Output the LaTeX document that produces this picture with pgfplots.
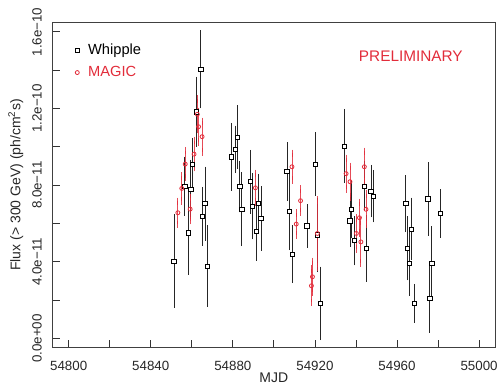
\documentclass[border=0pt]{standalone}
\usepackage{pgfplots}
\pgfplotsset{compat=1.18}
\usepackage{pgfplotstable}
\usepackage{fontspec}
\setmainfont{Liberation Sans}
\definecolor{magic}{RGB}{226,44,58}

\pgfplotstableread{
x y e
54851.3 4.04 2.2
54856.6 7.95 1.3
54858.5 5.51 1.95
54859.5 7.78 1.3
54860.3 9.09 1.15
54862.3 11.83 1.6
54864.4 14.05 1.8
54865.3 6.37 1.3
54866.4 7.03 1.7
54867.6 3.78 1.9
54879.2 9.48 1.53
54881.3 9.87 1.0
54882.1 10.5 1.43
54883.4 7.92 1.1
54884.4 6.75 1.7
54888.5 8.18 1.43
54889.4 6.91 1.5
54891.4 5.59 1.3
54892.3 7.05 1.3
54893.7 6.27 1.45
54906.4 8.7 1.3
54907.5 6.65 1.8
54909.1 4.4 1.28
54916.1 5.88 0.9
54920.1 9.1 1.42
54921.2 5.4 1.7
54922.6 1.83 1.68
54934.2 10.04 1.7
54937.1 6.13 1.1
54937.9 6.75 1.25
54939.2 5.1 1.05
54944.2 7.95 1.05
54945.2 4.7 1.5
54947.3 7.69 1.13
54948.4 7.43 1.13
54964.3 7.03 1.24
54964.9 4.7 1.43
54966.1 3.92 1.46
54967.0 5.71 1.4
54968.5 1.83 0.78
54975.1 7.29 1.68
54976.0 2.09 1.56
54977.0 3.92 1.7
54981.1 6.51 1.03
}\whipple

\pgfplotstableread{
x y e
54853.2 6.56 0.6
54855.1 7.83 0.65
54856.8 9.1 0.7
54859.2 6.75 0.6
54861.1 9.62 0.7
54862.7 11.7 0.8
54863.3 11.05 0.8
54865.0 10.53 0.8
54891.0 7.86 0.75
54908.8 8.96 0.7
54910.9 5.97 0.57
54913.0 7.19 0.6
54918.3 2.75 0.87
54918.8 3.22 0.8
54921.2 5.48 1.75
54935.2 8.6 0.8
54937.1 8.18 0.8
54940.2 5.48 0.8
54941.7 6.3 0.8
54942.4 5.04 1.1
54944.1 8.96 0.8
54944.9 6.74 0.8
}\magicdata

\begin{document}
\begin{tikzpicture}
\begin{axis}[
  scale only axis, width=332.25pt, height=243.5pt,
  xmin=54792, xmax=55008, ymin=-0.47, ymax=16.48,
  scaled x ticks=false, scaled y ticks=false,
  xtick={54800,54820,...,55000},
  xticklabels={54800,,54840,,54880,,54920,,54960,,55000},
  ytick={0,2,...,16},
  yticklabels={0.0e+00,,4.0e−11,,8.0e−11,,1.2e−10,,1.6e−10},
  tick align=inside, xtick pos=bottom, ytick pos=left,
  major tick length=5.8pt,
  tick style={black!80, line width=0.6pt},
  axis line style={black!75, line width=0.6pt},
  /pgf/number format/assume math mode=true,
  ticklabel style={font=\fontsize{10}{12}\selectfont, text=black!85},
  xticklabel style={anchor=base}, xticklabel shift=17.5pt,
  yticklabel style={rotate=90, anchor=base}, yticklabel shift=8pt,
  xlabel={MJD}, ylabel={Flux (> 300 GeV) (ph/cm\textsuperscript{2}s)},
  label style={font=\fontsize{10.5}{13}\selectfont, text=black!85},
  xlabel style={at={(axis description cs:0.5,-0.107)}, anchor=base},
  ylabel style={at={(axis description cs:-0.072,0.5)}, anchor=base},
  legend style={draw=none, fill=none, at={(axis description cs:0.051,0.944)}, anchor=north west,
    font=\fontsize{11}{13}\selectfont, row sep=3.5pt, inner sep=0pt,
    nodes={inner sep=2pt}},
  legend cell align=left,
]
\addplot[only marks, mark=square*, mark size=1.6pt, draw=black, line width=0.6pt, mark options={fill=white},
  error bars/.cd, y dir=both, y explicit,
  error bar style={black!85, line width=0.6pt},
  error mark options={black!85, mark size=3.4pt, line width=0.6pt}]
  table[x=x, y=y, y error=e] {\whipple};
\addlegendentry{\hspace*{4.5pt}Whipple}
\addplot[only marks, mark=o, mark size=1.5pt, draw=magic, line width=0.6pt,
  error bars/.cd, y dir=both, y explicit,
  error bar style={magic, line width=0.6pt, opacity=0.85},
  error mark options={magic, mark size=2.8pt, line width=0.6pt}]
  table[x=x, y=y, y error=e] {\magicdata};
\addlegendentry{\hspace*{4.5pt}\textcolor{magic}{MAGIC}}
\node[text=magic, font=\fontsize{11.5}{13}\selectfont] at (rel axis cs:0.809,0.897) {PRELIMINARY};
\end{axis}
\pgfresetboundingbox
\path[use as bounding box] ([shift={(-39.2pt,-29pt)}]current axis.south west) rectangle ([shift={(3.4pt,17pt)}]current axis.north east);
\end{tikzpicture}
\end{document}
